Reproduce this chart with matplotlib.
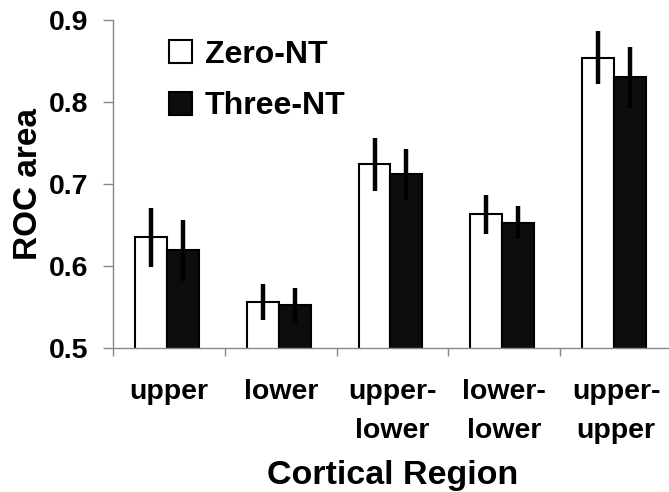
import numpy as np
import matplotlib
matplotlib.use("Agg")
import matplotlib.pyplot as plt

plt.rcParams['font.family'] = ['Liberation Sans', 'DejaVu Sans']
plt.rcParams['font.weight'] = 'bold'

# data
regions = ['upper', 'lower', 'upper-\nlower', 'lower-\nlower', 'upper-\nupper']
zero_nt = [0.635, 0.556, 0.724, 0.663, 0.854]
zero_nt_err = [0.036, 0.022, 0.032, 0.024, 0.032]
three_nt = [0.619, 0.552, 0.712, 0.653, 0.830]
three_nt_err = [0.037, 0.021, 0.031, 0.020, 0.037]

fig = plt.figure(figsize=(6.69, 4.92), dpi=100)
ax = fig.add_axes([113 / 669, 1 - 348 / 492, 559 / 669, 328 / 492])

x = np.arange(len(regions))
w = 0.286
center = x + 0.482
err_kw = dict(ecolor='black', elinewidth=3.2, capsize=0)

ax.bar(center - w / 2, zero_nt, w, color='white', edgecolor='black',
       linewidth=1.5, label='Zero-NT', zorder=2)
ax.bar(center + w / 2, three_nt, w, color='#0d0d0d', edgecolor='black',
       linewidth=1.5, label='Three-NT', zorder=2)
ax.errorbar(center - w / 2, zero_nt, yerr=zero_nt_err, fmt='none', zorder=3, **err_kw)
ax.errorbar(center + w / 2, three_nt, yerr=three_nt_err, fmt='none', zorder=3, **err_kw)

ax.set_xlim(0, 5)
ax.set_ylim(0.5, 0.9)
ax.set_yticks([0.5, 0.6, 0.7, 0.8, 0.9])
ax.set_yticklabels(['0.5', '0.6', '0.7', '0.8', '0.9'], fontsize=20.5, fontweight='bold')

ax.set_xticks(x + 0.5)
ax.set_xticklabels(regions, fontsize=20.5, fontweight='bold', linespacing=1.65)
ax.set_xticks(np.arange(0, 6), minor=True)
ax.tick_params(axis='x', which='major', length=0, pad=22)
ax.tick_params(axis='x', which='minor', length=6, color='#888888', width=1)
ax.tick_params(axis='y', length=7.5, color='#888888', width=1, pad=10)

for s in ['top', 'right']:
    ax.spines[s].set_visible(False)
for s in ['left', 'bottom']:
    ax.spines[s].set_color('#888888')
    ax.spines[s].set_linewidth(1)

ax.set_ylabel('ROC area', fontsize=24, fontweight='bold', labelpad=4)
ax.set_xlabel('Cortical Region', fontsize=24.5, fontweight='bold', labelpad=12)

ax.legend(loc='upper left', bbox_to_anchor=(0.1, 0.94), frameon=False,
          prop=dict(size=23, weight='bold'), handlelength=0.72, handleheight=0.72,
          handletextpad=0.4, labelspacing=0.68, borderaxespad=0, borderpad=0)

fig.savefig('out.png', dpi=100)
